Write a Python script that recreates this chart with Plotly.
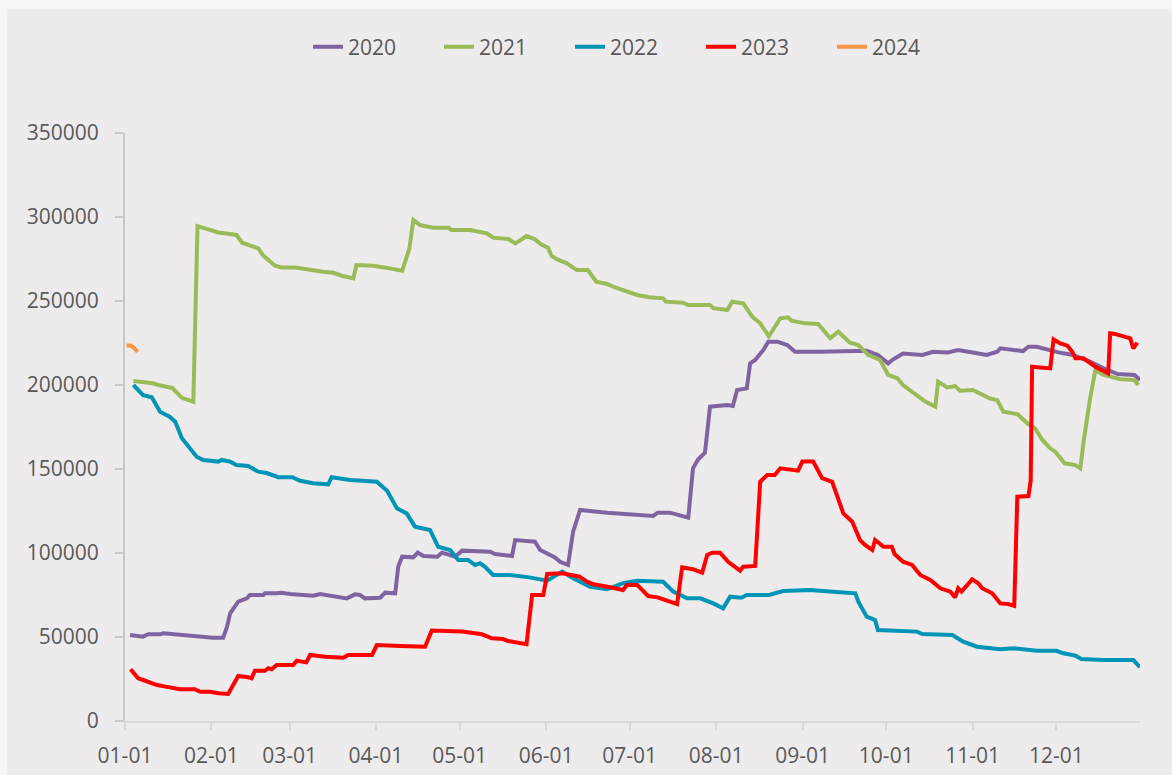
import plotly.graph_objects as go
import pandas as pd

# ---- data (x = day of year, 0 = Jan 1) ----
days_2020 = [1.8, 6.5, 8.3, 12.6, 13.7, 19.7, 26.9, 31.6, 35.2, 36.6, 37.7, 40.6, 43.7, 44.8, 49.6, 50.2, 54.4, 56, 59.2, 67.5, 70, 77.7, 79.5, 82.5, 84.3, 86, 91.5, 93.3, 96.9, 98, 99.4, 103.4, 105, 107, 112, 113.7, 118.4, 120.9, 131, 132.7, 138.8, 139.9, 147, 148.9, 151.7, 154.2, 156, 158.9, 160.7, 163.2, 172.9, 181, 189.4, 191, 195.5, 202, 203.7, 205.5, 208, 209.8, 216, 218, 219.5, 223, 224.2, 226, 228.9, 230.7, 234, 237.5, 240.3, 249.3, 266, 270, 273.7, 275.5, 279, 286, 289.8, 295, 298.8, 304, 309, 312.8, 313.9, 322, 324, 327, 334.7, 340, 346, 351, 356, 362, 364]
vals_2020 = [51200, 50200, 51600, 51600, 52200, 51200, 50200, 49600, 49600, 56100, 64100, 71000, 73000, 75000, 75000, 76000, 76000, 76400, 75600, 74600, 75600, 73400, 73000, 75400, 75000, 73000, 73400, 76400, 76000, 91900, 97800, 97400, 100200, 98200, 97800, 100200, 97800, 101400, 100800, 99400, 98200, 107700, 106700, 101800, 99400, 97400, 94800, 92900, 112700, 125600, 124000, 123000, 122000, 124000, 124000, 121000, 150400, 155600, 159800, 187100, 188100, 187500, 197000, 198000, 212900, 214900, 220800, 225800, 225800, 223800, 219800, 219800, 220400, 217900, 212900, 215300, 218800, 217900, 219800, 219400, 220800, 219400, 217900, 219800, 221800, 220200, 222800, 222800, 219400, 217900, 213900, 209900, 206500, 206000, 203000]

days_2021 = [3, 10, 12, 17, 20.4, 24.5, 26, 28.7, 33.5, 40, 42, 45.5, 47.8, 49.6, 53.8, 56, 61, 71, 74.7, 78, 81.9, 83, 89, 93, 96, 99.4, 102, 103.4, 105.8, 110.5, 116, 117, 123.8, 129.8, 132, 137.4, 140, 144, 147, 149, 151.7, 153, 155, 158.5, 162, 166, 169, 173, 175, 180, 183.7, 188, 193, 194, 200, 202, 209.8, 211, 216, 217.7, 221.7, 225, 227.8, 230.9, 235, 237.8, 239, 243.9, 248.6, 252.9, 255.8, 260, 263, 266.5, 270.8, 273.7, 277, 279, 284, 287, 290.6, 291.6, 294.8, 297.7, 299.5, 304, 307.8, 310, 312.8, 315, 320, 323.6, 326.4, 329, 331.8, 333.6, 337, 340.8, 342.6, 343.7, 346, 348, 350.9, 357, 362, 363.4]
vals_2021 = [202400, 201000, 200000, 198200, 192400, 190000, 294600, 293200, 290800, 289300, 284700, 282700, 281300, 277000, 271000, 270000, 270000, 267400, 266800, 264900, 263500, 271400, 271000, 270000, 268900, 268000, 281300, 298200, 295200, 293600, 293600, 292300, 292300, 290300, 287700, 286900, 284300, 288700, 286700, 283900, 281700, 276800, 274800, 272400, 268400, 268400, 261500, 260100, 258500, 255500, 253600, 252200, 251600, 249600, 249000, 247600, 247600, 245700, 244600, 249600, 248600, 240600, 236700, 229000, 239700, 240300, 238300, 236700, 236300, 227800, 231700, 225200, 223800, 217900, 214900, 206000, 204000, 200000, 194000, 190100, 187100, 202000, 198600, 199400, 196600, 197000, 194000, 192100, 191000, 184100, 182700, 177200, 174200, 167300, 162300, 160300, 153400, 152300, 150400, 165300, 191000, 208900, 206000, 203400, 203000, 200000]

days_2022 = [3, 6.5, 9.6, 12.6, 16, 18, 20.4, 23.3, 25.7, 28, 33.5, 34.7, 37.7, 40, 44.2, 47.8, 50.8, 55, 60, 62.8, 67.5, 72.9, 74.1, 80.7, 90.3, 94, 97.5, 101, 104, 109.4, 112.3, 116.6, 119.5, 123, 125.6, 127.3, 129, 132, 138, 145, 151.4, 156.8, 160.7, 166.8, 172.9, 178.6, 183.7, 193, 196.6, 201.6, 206.3, 211, 214.5, 217, 221, 223, 231, 236, 245.7, 254, 261.9, 263, 266, 269, 270, 284, 286, 296.7, 300.6, 305.6, 313.9, 318.5, 327, 334, 336.5, 340.8, 343, 351, 361.6, 364]
vals_2022 = [200000, 194000, 192700, 184100, 181100, 178200, 168300, 162300, 157300, 155400, 154400, 155400, 154400, 152400, 151800, 148400, 147600, 145100, 145100, 143000, 141500, 140900, 145100, 143500, 142400, 137000, 126600, 123600, 115700, 113700, 103700, 101800, 95800, 95800, 92900, 93900, 91900, 86900, 86900, 85500, 83500, 88900, 84900, 79900, 78400, 82000, 83500, 82900, 77000, 73000, 73000, 70000, 67100, 74000, 73400, 75000, 75000, 77400, 78000, 77000, 76000, 71000, 62100, 60100, 54200, 53200, 51800, 51200, 47200, 44200, 42700, 43300, 41800, 41800, 40300, 38900, 36900, 36300, 36300, 32000]

days_2023 = [2, 4.7, 6.5, 11.5, 16, 19.7, 25, 27, 30.5, 33.5, 37, 38.8, 40.6, 44.2, 45.4, 46.6, 50.2, 51.4, 52.6, 54.4, 60.3, 61.6, 65, 66.4, 71.7, 78.3, 80, 88.6, 90.3, 98.6, 103.4, 107.6, 110, 121, 128, 131.6, 135.6, 137.4, 144, 146, 150, 151.4, 156.8, 163, 165.7, 168, 174, 178.6, 180, 183.7, 187.6, 191, 194.4, 198, 199.8, 203.7, 207, 208.8, 210.6, 213.4, 216.3, 220.6, 221.7, 226, 227.8, 230.3, 233, 235, 241.4, 242.9, 246.8, 250, 253.6, 255.8, 257.6, 260.8, 263.6, 265.4, 268, 269, 272, 275, 276, 279, 282.3, 285.2, 288.8, 292.4, 296, 297.7, 298.8, 300, 303.8, 306, 307.4, 311, 313.9, 316.7, 318.9, 320, 324, 324.8, 325.3, 331.8, 333, 335.4, 338, 339.7, 340.8, 343.7, 345.4, 348, 351.5, 352.6, 353.3, 355, 360.5, 361.6, 363]
vals_2023 = [30800, 25400, 24400, 21400, 20000, 18900, 18900, 17400, 17400, 16500, 16100, 21400, 26800, 26000, 25400, 29900, 29900, 31400, 30800, 33300, 33300, 35900, 34900, 39300, 38300, 37700, 39300, 39300, 45200, 44600, 44200, 44200, 53800, 53200, 51600, 49200, 48800, 47600, 45700, 75000, 75000, 87500, 87900, 85900, 82900, 81400, 79600, 78000, 81000, 81000, 74400, 73600, 71600, 69600, 91500, 90300, 88300, 98800, 100200, 100200, 94800, 89500, 91800, 92300, 142400, 146400, 146400, 150400, 149000, 154400, 154400, 144500, 142400, 132600, 123600, 118600, 107700, 104800, 101800, 107700, 103700, 103700, 99400, 94800, 92900, 86900, 83900, 79000, 77000, 73600, 79000, 77000, 84300, 82000, 79000, 76000, 70000, 69600, 68500, 133500, 133900, 143000, 210900, 209900, 227200, 224800, 223400, 219800, 215900, 215900, 213900, 210900, 207900, 206900, 230800, 230400, 227800, 221800, 225200]

days_2024 = [0.6, 2, 3.3, 4.5]
vals_2024 = [223500, 223500, 222000, 219800]

series_names = ["2020", "2021", "2022", "2023", "2024"]
series_days = [days_2020, days_2021, days_2022, days_2023, days_2024]
series_vals = [vals_2020, vals_2021, vals_2022, vals_2023, vals_2024]
series_colors = ["#8064A2", "#9BBB59", "#0095B6", "#FF0000", "#F79646"]

tick_labels = ["01-01", "02-01", "03-01", "04-01", "05-01", "06-01",
               "07-01", "08-01", "09-01", "10-01", "11-01", "12-01"]
y_ticks = [0, 50000, 100000, 150000, 200000, 250000, 300000, 350000]

base = pd.Timestamp("2023-01-01")


def to_dates(days):
    return [base + pd.Timedelta(days=d) for d in days]


tick_vals = [pd.Timestamp("2023-" + t) for t in tick_labels]

fig = go.Figure()
for name, d, v, c in zip(series_names, series_days, series_vals, series_colors):
    fig.add_trace(go.Scatter(x=to_dates(d), y=v, mode="lines", name=name,
                             line=dict(color=c, width=4)))

TXT = "#595959"
FONT = "Open Sans"

fig.update_layout(
    width=1172, height=775,
    margin=dict(l=125, r=32, t=133, b=54, autoexpand=False),
    paper_bgcolor="#F6F6F6",
    plot_bgcolor="rgba(0,0,0,0)",
    font=dict(family=FONT, size=21, color=TXT),
    showlegend=True,
    legend=dict(orientation="h", x=0.1803, xanchor="left", y=1.146, yanchor="middle",
                font=dict(family=FONT, size=21, color=TXT),
                entrywidth=86, entrywidthmode="pixels",
                bgcolor="rgba(0,0,0,0)", traceorder="normal"),
    shapes=[dict(type="rect", xref="paper", yref="paper",
                 x0=-0.1163, x1=1.1, y0=-0.2, y1=1.2109,
                 fillcolor="#EDEBEC", line=dict(width=0), layer="below")],
)

fig.update_xaxes(
    range=[base, base + pd.Timedelta(days=364)],
    tickmode="array", tickvals=tick_vals, ticktext=tick_labels,
    showgrid=False, zeroline=False, showline=True, linecolor="#D9D9D9", linewidth=2,
    ticks="outside", ticklen=7, tickcolor="#D9D9D9", tickwidth=2,
    tickfont=dict(family=FONT, size=21, color=TXT), ticklabelstandoff=8,
    automargin=False,
)
fig.update_yaxes(
    range=[0, 350000], tickmode="array", tickvals=y_ticks,
    ticktext=[str(t) for t in y_ticks],
    showgrid=False, zeroline=False, showline=True, linecolor="#C8C8C8", linewidth=2,
    ticks="outside", ticklen=8, tickcolor="#C8C8C8", tickwidth=2,
    tickfont=dict(family=FONT, size=21, color=TXT), ticklabelstandoff=12,
    automargin=False,
)

fig.write_html("out.html", config={"displayModeBar": False},
               post_script="document.body.style.margin='0';document.body.style.overflow='hidden';")
